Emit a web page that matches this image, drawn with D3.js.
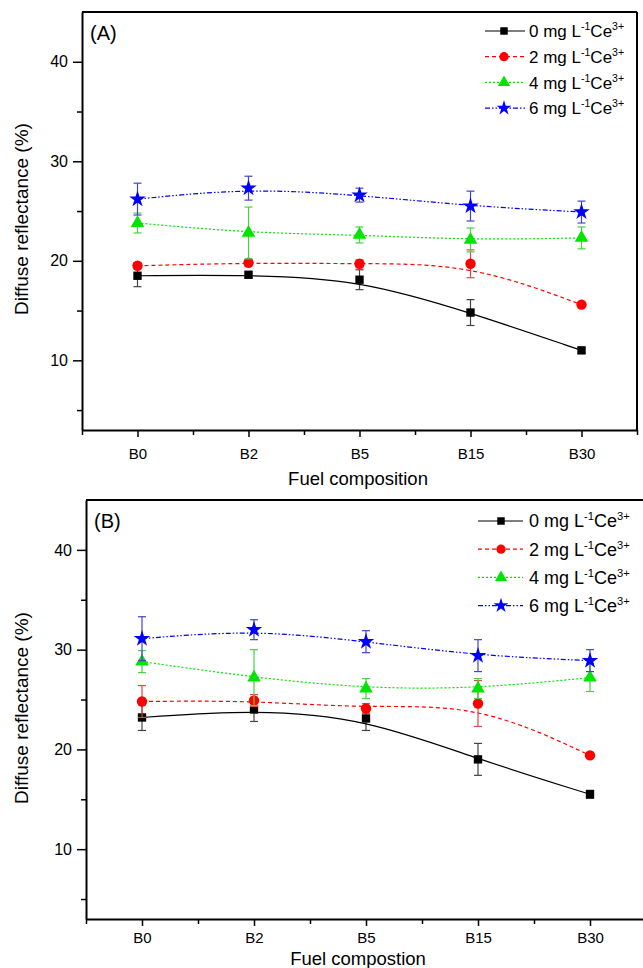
<!DOCTYPE html>
<html>
<head>
<meta charset="utf-8">
<script src="https://cdn.jsdelivr.net/npm/d3@7"></script>
<style>
  body { margin: 0; background: #fff; }
  svg { display: block; font-family: "Liberation Sans", Arial, sans-serif; }
</style>
</head>
<body>
<div id="chart"></div>
<script>
// categories on the x axis
var fuels = ["B0", "B2", "B5", "B15", "B30"];
var doses = ["0", "2", "4", "6"];

// panel (A) values and error bars
var a0 = [18.5, 18.6, 18.1, 14.8, 11.0];
var a0err = [1.1, 0.3, 1.0, 1.3, 0.3];
var a2 = [19.5, 19.8, 19.7, 19.7, 15.6];
var a2err = [0.3, 0.3, 0.4, 1.4, 0.2];
var a4 = [23.8, 22.8, 22.6, 22.1, 22.3];
var a4err = [1.0, 2.6, 0.8, 1.2, 1.1];
var a6 = [26.2, 27.3, 26.6, 25.5, 24.9];
var a6err = [1.6, 1.2, 0.7, 1.5, 1.1];

// panel (B) values and error bars
var b0 = [23.2, 24.0, 23.1, 19.0, 15.5];
var b0err = [1.3, 1.2, 1.2, 1.6, 0.4];
var b2 = [24.8, 24.9, 24.1, 24.6, 19.4];
var b2err = [1.6, 0.6, 0.5, 2.3, 0.2];
var b4 = [28.8, 27.2, 26.1, 26.1, 27.2];
var b4err = [1.1, 2.8, 1.0, 1.0, 1.4];
var b6 = [31.1, 32.0, 30.8, 29.4, 28.9];
var b6err = [2.2, 1.0, 1.1, 1.6, 1.1];

var yTicks = [10, 20, 30, 40];
var yMinor = [5, 15, 25, 35];

var width = 643, height = 968;

var svg = d3.select("#chart").append("svg")
    .attr("width", width)
    .attr("height", height);

// per-series look
var styles = [
    { color: "#000000", err: "#444444", dash: null, symbol: d3.symbolSquare, size: 70 },
    { color: "#ff0000", err: "#e84444", dash: "4,3", symbol: d3.symbolCircle, size: 85 },
    { color: "#00e400", err: "#44d444", dash: "2,2", symbol: d3.symbolTriangle, size: 80 },
    { color: "#0000ff", err: "#4444cc", dash: "5,2,1.5,2,1.5,2", symbol: d3.symbolStar, size: 85 }
];

var panels = [
    { label: "(A)", xTitle: "Fuel composition", left: 82, right: 637, top: 12, bottom: 430,
      tickOff: 29, titleY: 485, ttlY: 219,
      series: [a0, a2, a4, a6], errs: [a0err, a2err, a4err, a6err],
      legX: 504, legL: 485, legR: 525, legY: 31, legStep: 25.7, legFont: 17 },
    { label: "(B)", xTitle: "Fuel compostion", left: 86, right: 646, top: 500, bottom: 919,
      tickOff: 24, titleY: 965, ttlY: 708,
      series: [b0, b2, b4, b6], errs: [b0err, b2err, b4err, b6err],
      legX: 501, legL: 478, legR: 523, legY: 521, legStep: 28.2, legFont: 18 }
];

panels.forEach(function(p) {
    var x = d3.scaleLinear().domain([-0.5, 4.5]).range([p.left, p.right]);
    var y = d3.scaleLinear().domain([3, 45]).range([p.bottom, p.top]);
    var g = svg.append("g");

    // frame: top and right lines
    g.append("line").attr("x1", p.left).attr("x2", p.right)
        .attr("y1", p.top).attr("y2", p.top)
        .attr("stroke", "#000").attr("stroke-width", 2);
    g.append("line").attr("x1", p.right).attr("x2", p.right)
        .attr("y1", p.top).attr("y2", p.bottom)
        .attr("stroke", "#000").attr("stroke-width", 2);

    // y axis
    var yAxis = g.append("g")
        .attr("transform", "translate(" + p.left + ",0)")
        .call(d3.axisLeft(y).tickValues(yTicks).tickSize(9).tickPadding(5).tickSizeOuter(0));
    g.append("g")
        .attr("transform", "translate(" + p.left + ",0)")
        .call(d3.axisLeft(y).tickValues(yMinor).tickSize(5).tickFormat("").tickSizeOuter(0))
        .select(".domain").remove();

    // x axis
    var xAxis = g.append("g")
        .attr("transform", "translate(0," + p.bottom + ")")
        .call(d3.axisBottom(x).tickValues(d3.range(fuels.length))
            .tickFormat(function(i) { return fuels[i]; })
            .tickSize(7).tickSizeOuter(0));
    g.append("g")
        .attr("transform", "translate(0," + p.bottom + ")")
        .call(d3.axisBottom(x).tickValues([-0.5, 0.5, 1.5, 2.5, 3.5, 4.5])
            .tickSize(5).tickFormat("").tickSizeOuter(0))
        .select(".domain").remove();

    g.selectAll(".domain").attr("stroke-width", 2);
    g.selectAll(".tick line").attr("stroke-width", 1.5);
    yAxis.selectAll("text").style("font-size", "16px").style("font-family", "Liberation Sans, Arial");
    xAxis.selectAll("text")
        .attr("dy", null)
        .attr("y", p.tickOff)
        .style("font-size", "15px").style("font-family", "Liberation Sans, Arial");

    // axis titles
    g.append("text")
        .attr("x", 358)
        .attr("y", p.titleY)
        .attr("text-anchor", "middle")
        .style("font-size", "18.5px")
        .text(p.xTitle);
    g.append("text")
        .attr("transform", "translate(28," + p.ttlY + ") rotate(-90)")
        .attr("text-anchor", "middle")
        .style("font-size", "19px")
        .text("Diffuse reflectance (%)");

    // panel tag
    g.append("text")
        .attr("x", p.left + 8)
        .attr("y", p.top + 28)
        .style("font-size", "20px")
        .text(p.label);

    // B-spline smoothing like the original plotting software
    var line = d3.line()
        .x(function(d, i) { return x(i); })
        .y(function(d) { return y(d); })
        .curve(d3.curveBasis);

    p.series.forEach(function(vals, s) {
        var st = styles[s];
        var errs = p.errs[s];
        var sg = g.append("g");

        // error bars
        vals.forEach(function(v, i) {
            var hi = y(v + errs[i]), lo = y(v - errs[i]), cx = x(i);
            sg.append("line").attr("x1", cx).attr("x2", cx).attr("y1", hi).attr("y2", lo)
                .attr("stroke", st.err).attr("stroke-width", 1.2);
            [hi, lo].forEach(function(yy) {
                sg.append("line").attr("x1", cx - 4).attr("x2", cx + 4).attr("y1", yy).attr("y2", yy)
                    .attr("stroke", st.err).attr("stroke-width", 1.2);
            });
        });

        sg.append("path")
            .datum(vals)
            .attr("d", line)
            .attr("fill", "none")
            .attr("stroke", st.color)
            .attr("stroke-width", 1.2)
            .attr("stroke-dasharray", st.dash);

        sg.selectAll("path.pt")
            .data(vals)
            .enter()
            .append("path")
            .attr("class", "pt")
            .attr("transform", function(d, i) { return "translate(" + x(i) + "," + y(d) + ")"; })
            .attr("d", d3.symbol().type(st.symbol).size(st.size))
            .attr("fill", st.color);

        // legend row
        var ly = p.legY + s * p.legStep;
        var lg = g.append("g");
        lg.append("line").attr("x1", p.legL).attr("x2", p.legR).attr("y1", ly).attr("y2", ly)
            .attr("stroke", st.color).attr("stroke-width", 1.2)
            .attr("stroke-dasharray", st.dash);
        lg.append("path")
            .attr("transform", "translate(" + p.legX + "," + ly + ")")
            .attr("d", d3.symbol().type(st.symbol).size(st.size * 0.8))
            .attr("fill", st.color);
        var sup = Math.round(p.legFont * 0.4);
        var t = lg.append("text")
            .attr("x", 529)
            .attr("y", ly + p.legFont * 0.36)
            .style("font-size", p.legFont + "px");
        t.append("tspan").text(doses[s] + " mg L");
        t.append("tspan").attr("dy", -sup).style("font-size", (p.legFont * 0.62) + "px").text("-1");
        t.append("tspan").attr("dy", sup).text("Ce");
        t.append("tspan").attr("dy", -sup).style("font-size", (p.legFont * 0.62) + "px").text("3+");
    });
});
</script>
</body>
</html>
